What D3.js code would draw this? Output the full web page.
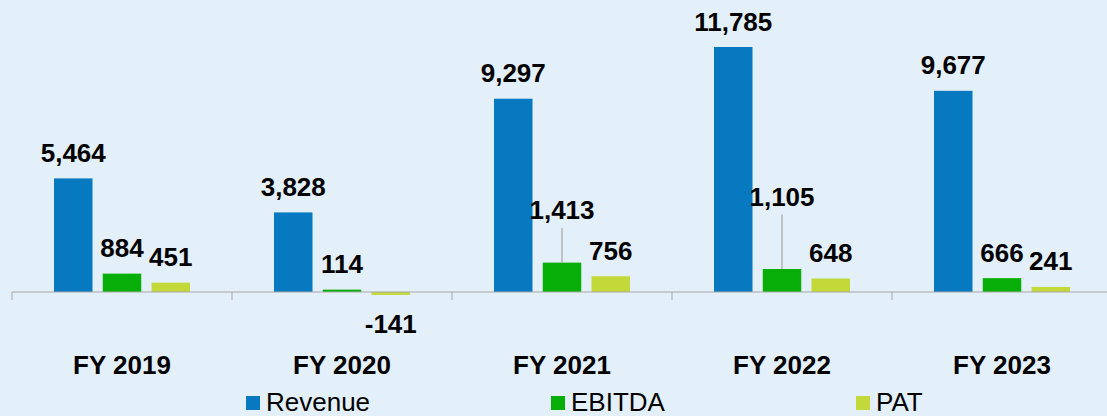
<!DOCTYPE html>
<html>
<head>
<meta charset="utf-8">
<script src="https://cdn.jsdelivr.net/npm/d3@7"></script>
<style>
  html, body { margin: 0; padding: 0; background: #e4f0f9; }
  svg { display: block; font-family: "Liberation Sans", Arial, sans-serif; }
</style>
</head>
<body>
<svg id="chart" width="1107" height="416"></svg>
<script>
const years = ["FY 2019", "FY 2020", "FY 2021", "FY 2022", "FY 2023"];
const seriesNames = ["Revenue", "EBITDA", "PAT"];
const revenue = [5464, 3828, 9297, 11785, 9677];
const ebitda = [884, 114, 1413, 1105, 666];
const pat = [451, -141, 756, 648, 241];

const colors = ["#0779c0", "#08ae08", "#c3d939"];
// labels pulled up with a leader line (px above normal spot)
const labelLift = { "FY 2021|EBITDA": 27, "FY 2022|EBITDA": 47 };

const values = [revenue, ebitda, pat];
const rows = [];
years.forEach((y, i) => {
  seriesNames.forEach((s, j) => {
    rows.push({ year: y, series: s, value: values[j][i], color: colors[j] });
  });
});

const svg = d3.select("#chart");
const W = 1107, H = 416;

const x0 = d3.scaleBand().domain(years).range([12, 1112]);
const x1 = d3.scaleBand().domain(seriesNames)
  .range([42, x0.bandwidth() - 42])
  .paddingInner(0.21);
const y = d3.scaleLinear().domain([0, 11785]).range([292, 47]);

svg.append("rect").attr("width", W).attr("height", H).attr("fill", "#e4f0f9");

// bars
svg.append("g").selectAll("rect")
  .data(rows)
  .join("rect")
  .attr("x", (d) => x0(d.year) + x1(d.series))
  .attr("y", (d) => y(Math.max(0, d.value)))
  .attr("width", x1.bandwidth())
  .attr("height", (d) => Math.abs(y(d.value) - y(0)))
  .attr("fill", (d) => d.color);

// axis line with ticks between categories
const axis = d3.axisBottom(x0).tickSize(0).tickFormat("");
const gx = svg.append("g").attr("transform", `translate(0,${y(0)})`).call(axis);
gx.select(".domain").attr("stroke", "#a6a6a6").attr("d", `M12,0H${W}`);
gx.selectAll(".tick").remove();
gx.selectAll("line.sep")
  .data(years)
  .join("line")
  .attr("class", "sep")
  .attr("x1", (d) => x0(d))
  .attr("x2", (d) => x0(d))
  .attr("y1", 0)
  .attr("y2", 8)
  .attr("stroke", "#a6a6a6");

// category labels
svg.append("g").selectAll("text")
  .data(years)
  .join("text")
  .attr("x", (d) => x0(d) + x0.bandwidth() / 2)
  .attr("y", 374)
  .attr("text-anchor", "middle")
  .attr("font-weight", "bold")
  .attr("font-size", 26)
  .attr("fill", "#000")
  .text((d) => d);

// value labels
const fmt = (v) => d3.format(",")(v).replace("\u2212", "-");
const lg = svg.append("g");
rows.forEach((d) => {
  const cx = x0(d.year) + x1(d.series) + x1.bandwidth() / 2;
  const lift = labelLift[d.year + "|" + d.series] || 0;
  let by;
  if (d.value >= 0) {
    by = y(d.value) - 16.5 - lift;
  } else {
    by = y(d.value) + 38;
  }
  if (lift) {
    lg.append("line")
      .attr("x1", cx).attr("x2", cx)
      .attr("y1", by + 9).attr("y2", y(d.value))
      .attr("stroke", "#a6a6a6")
      .attr("stroke-width", 1.2);
  }
  lg.append("text")
    .attr("x", cx)
    .attr("y", by)
    .attr("text-anchor", "middle")
    .attr("font-weight", "bold")
    .attr("font-size", 26)
    .attr("fill", "#000")
    .text(fmt(d.value));
});

// legend
const lx = d3.scalePoint().domain(seriesNames).range([246, 856]);
const leg = svg.append("g").selectAll("g")
  .data(seriesNames)
  .join("g")
  .attr("transform", (d) => `translate(${lx(d)},396)`);
leg.append("rect")
  .attr("width", 14)
  .attr("height", 14)
  .attr("fill", (d, i) => colors[i]);
leg.append("text")
  .attr("x", 20)
  .attr("y", 14.5)
  .attr("font-size", 26)
  .attr("fill", "#000")
  .text((d) => d);
</script>
</body>
</html>
